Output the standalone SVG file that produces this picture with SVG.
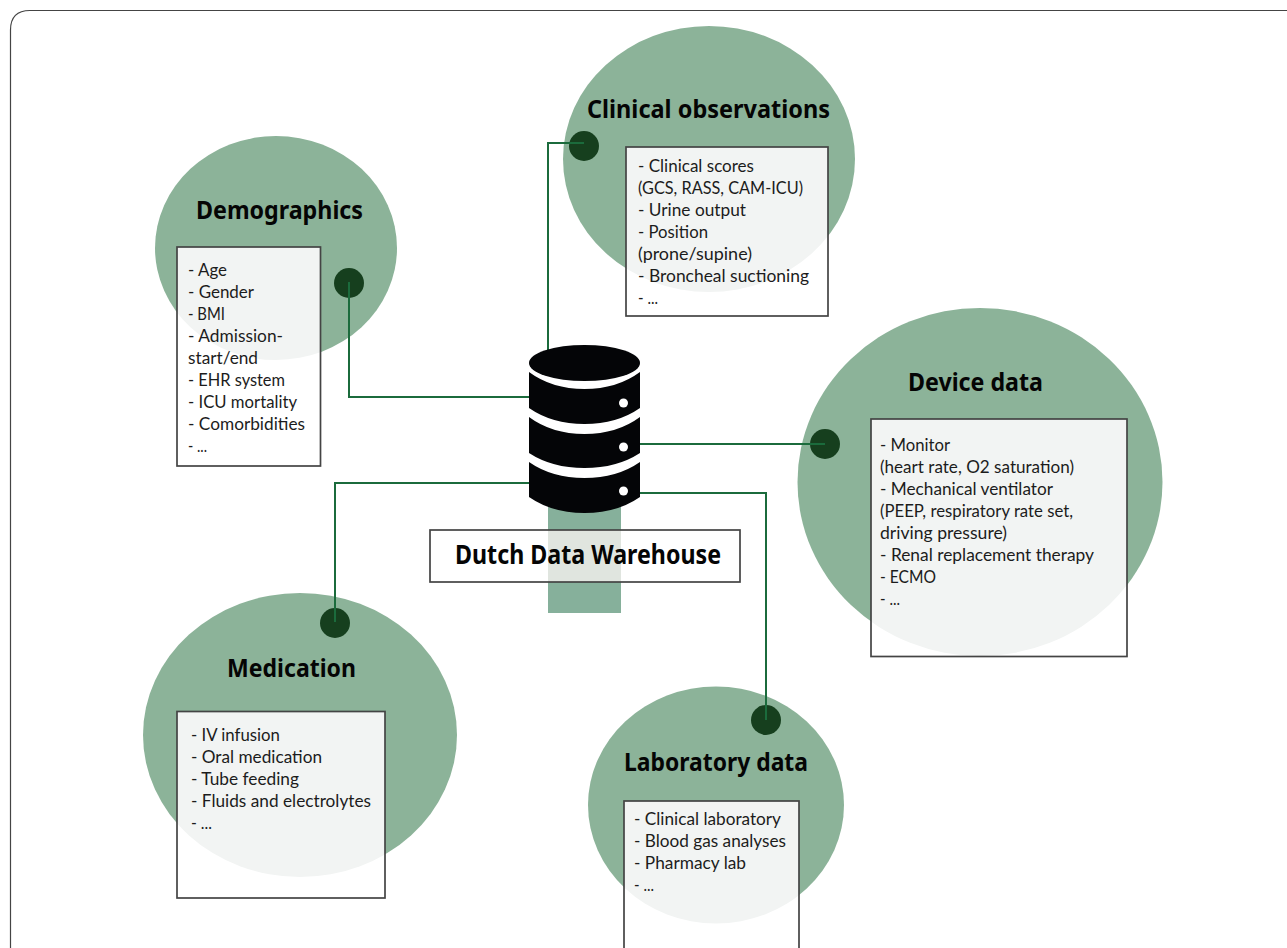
<svg xmlns="http://www.w3.org/2000/svg" width="1287" height="948" viewBox="0 0 1287 948">
<style>
text{font-family:"Lato","Noto Sans","Liberation Sans",sans-serif;fill:#1c1c1c;font-size:17.500px}
text.t{font-family:"Noto Sans","Liberation Sans",sans-serif;font-weight:700;font-size:25px;fill:#050505}
.c{fill:#8cb399}
.i{fill:#f2f4f3}
.x{fill:#fff}
.o{fill:none;stroke:#444;stroke-width:1.700}
.d{fill:#163f1e}
.l{fill:none;stroke:#1b6b3c;stroke-width:2}
</style>
<defs>
<clipPath id="cd"><rect x="177" y="247" width="143.500" height="219"/></clipPath>
<clipPath id="cc"><rect x="626" y="147" width="202" height="169"/></clipPath>
<clipPath id="cv"><rect x="871" y="419" width="256" height="237.500"/></clipPath>
<clipPath id="cm"><rect x="177" y="711.500" width="208" height="186.500"/></clipPath>
<clipPath id="cl"><rect x="624" y="801" width="175" height="160"/></clipPath>
</defs>
<rect width="1287" height="948" fill="#fff"/>
<path d="M10.500 948V30Q10.500 10.500 30 10.500H1287" fill="none" stroke="#444" stroke-width="1.200"/>
<g id="warehouse-bar"><rect x="548" y="495" width="73" height="118" fill="#86b09b"/></g>
<g id="demographics-bg"><ellipse class="c" cx="276" cy="248" rx="121" ry="112"/></g>
<g id="clinical-bg"><ellipse class="c" cx="709" cy="159" rx="146" ry="133"/></g>
<g id="device-bg"><ellipse class="c" cx="980" cy="482" rx="182.500" ry="174"/></g>
<g id="medication-bg"><ellipse class="c" cx="300" cy="735" rx="157" ry="142"/></g>
<g id="laboratory-bg"><ellipse class="c" cx="716" cy="805" rx="128" ry="118.500"/></g>
<g id="dots">
<circle class="d" cx="584" cy="146" r="15"/><circle class="d" cx="349" cy="283" r="15"/><circle class="d" cx="825" cy="444" r="15"/><circle class="d" cx="335" cy="623" r="15"/><circle class="d" cx="766" cy="720" r="15"/>
</g>
<g id="connectors">
<path class="l" d="M548 352V143H584"/>
<path class="l" d="M349 282V397H530"/>
<path class="l" d="M639 444H825"/>
<path class="l" d="M530 483H335V622"/>
<path class="l" d="M639 493H766V720"/>
</g>
<g id="database">
<ellipse cx="584.500" cy="363" rx="55.500" ry="18" fill="#040507"/>
<path d="M529 372Q552 389 584.500 389T640 372V408Q617 424 584.500 424T529 408Z" fill="#040507"/>
<path d="M529 417Q552 434 584.500 434T640 417V453Q617 468 584.500 468T529 453Z" fill="#040507"/>
<path d="M529 462Q552 478 584.500 478T640 462V497Q617 513 584.500 513T529 497Z" fill="#040507"/>
<circle cx="623.500" cy="403" r="4.500" fill="#fff"/><circle cx="623.500" cy="447" r="4.500" fill="#fff"/><circle cx="623.500" cy="491" r="4.500" fill="#fff"/>
</g>
<g id="warehouse"><rect class="x" x="430" y="530" width="310" height="52"/><rect x="548" y="530" width="73" height="52" fill="#e0e5df"/><rect class="o" x="430" y="530" width="310" height="52" stroke-width="2"/>
<text class="t" x="455" y="564" style="font-size:26px" textLength="266" lengthAdjust="spacingAndGlyphs">Dutch Data Warehouse</text></g>
<g id="demographics"><text class="t" x="196" y="219" textLength="167" lengthAdjust="spacingAndGlyphs">Demographics</text>
<rect class="x" x="177" y="247" width="143.500" height="219"/><ellipse class="i" cx="276" cy="248" rx="121" ry="112" clip-path="url(#cd)"/><rect class="o" x="177" y="247" width="143.500" height="219"/>
<text x="188" y="275.500" textLength="39" lengthAdjust="spacingAndGlyphs">- Age</text>
<text x="188" y="297.500" textLength="66" lengthAdjust="spacingAndGlyphs">- Gender</text>
<text x="188" y="319.500" textLength="37" lengthAdjust="spacingAndGlyphs">- BMI</text>
<text x="188" y="341.500" textLength="95" lengthAdjust="spacingAndGlyphs">- Admission-</text>
<text x="188" y="363.500" textLength="70" lengthAdjust="spacingAndGlyphs">start/end</text>
<text x="188" y="385.500" textLength="97" lengthAdjust="spacingAndGlyphs">- EHR system</text>
<text x="188" y="407.500" textLength="109" lengthAdjust="spacingAndGlyphs">- ICU mortality</text>
<text x="188" y="429.500" textLength="117" lengthAdjust="spacingAndGlyphs">- Comorbidities</text>
<text x="188" y="451.500" textLength="19" lengthAdjust="spacingAndGlyphs">- ...</text></g>
<g id="clinical"><text class="t" x="587" y="117.500" textLength="243" lengthAdjust="spacingAndGlyphs">Clinical observations</text>
<rect class="x" x="626" y="147" width="202" height="169"/><ellipse class="i" cx="709" cy="159" rx="146" ry="133" clip-path="url(#cc)"/><rect class="o" x="626" y="147" width="202" height="169"/>
<text x="638" y="171.500" textLength="116" lengthAdjust="spacingAndGlyphs">- Clinical scores</text>
<text x="638" y="193.500" textLength="165" lengthAdjust="spacingAndGlyphs">(GCS, RASS, CAM-ICU)</text>
<text x="638" y="215.500" textLength="108" lengthAdjust="spacingAndGlyphs">- Urine output</text>
<text x="638" y="237.500" textLength="70" lengthAdjust="spacingAndGlyphs">- Position</text>
<text x="638" y="259.500" textLength="114" lengthAdjust="spacingAndGlyphs">(prone/supine)</text>
<text x="638" y="281.500" textLength="171" lengthAdjust="spacingAndGlyphs">- Broncheal suctioning</text>
<text x="638" y="303.500" textLength="20" lengthAdjust="spacingAndGlyphs">- ...</text></g>
<g id="device"><text class="t" x="908" y="391" textLength="135" lengthAdjust="spacingAndGlyphs">Device data</text>
<rect class="x" x="871" y="419" width="256" height="237.500"/><ellipse class="i" cx="980" cy="482" rx="182.500" ry="174" clip-path="url(#cv)"/><rect class="o" x="871" y="419" width="256" height="237.500"/>
<text x="880" y="451" textLength="70" lengthAdjust="spacingAndGlyphs">- Monitor</text>
<text x="880" y="473" textLength="194" lengthAdjust="spacingAndGlyphs">(heart rate, O2 saturation)</text>
<text x="880" y="495" textLength="173" lengthAdjust="spacingAndGlyphs">- Mechanical ventilator</text>
<text x="880" y="517" textLength="193" lengthAdjust="spacingAndGlyphs">(PEEP, respiratory rate set,</text>
<text x="880" y="539" textLength="127" lengthAdjust="spacingAndGlyphs">driving pressure)</text>
<text x="880" y="561" textLength="214" lengthAdjust="spacingAndGlyphs">- Renal replacement therapy</text>
<text x="880" y="583" textLength="56" lengthAdjust="spacingAndGlyphs">- ECMO</text>
<text x="880" y="605" textLength="20" lengthAdjust="spacingAndGlyphs">- ...</text></g>
<g id="medication"><text class="t" x="227" y="677" textLength="129" lengthAdjust="spacingAndGlyphs">Medication</text>
<rect class="x" x="177" y="711.500" width="208" height="186.500"/><ellipse class="i" cx="300" cy="735" rx="157" ry="142" clip-path="url(#cm)"/><rect class="o" x="177" y="711.500" width="208" height="186.500"/>
<text x="191" y="741" textLength="89" lengthAdjust="spacingAndGlyphs">- IV infusion</text>
<text x="191" y="763" textLength="131" lengthAdjust="spacingAndGlyphs">- Oral medication</text>
<text x="191" y="785" textLength="108" lengthAdjust="spacingAndGlyphs">- Tube feeding</text>
<text x="191" y="807" textLength="180" lengthAdjust="spacingAndGlyphs">- Fluids and electrolytes</text>
<text x="191" y="829" textLength="21" lengthAdjust="spacingAndGlyphs">- ...</text></g>
<g id="laboratory"><text class="t" x="624" y="770.500" textLength="184" lengthAdjust="spacingAndGlyphs">Laboratory data</text>
<rect class="x" x="624" y="801" width="175" height="160"/><ellipse class="i" cx="716" cy="805" rx="128" ry="118.500" clip-path="url(#cl)"/><rect class="o" x="624" y="801" width="175" height="160"/>
<text x="634" y="825" textLength="147" lengthAdjust="spacingAndGlyphs">- Clinical laboratory</text>
<text x="634" y="847" textLength="152" lengthAdjust="spacingAndGlyphs">- Blood gas analyses</text>
<text x="634" y="869" textLength="112" lengthAdjust="spacingAndGlyphs">- Pharmacy lab</text>
<text x="634" y="891" textLength="20" lengthAdjust="spacingAndGlyphs">- ...</text></g>
</svg>
